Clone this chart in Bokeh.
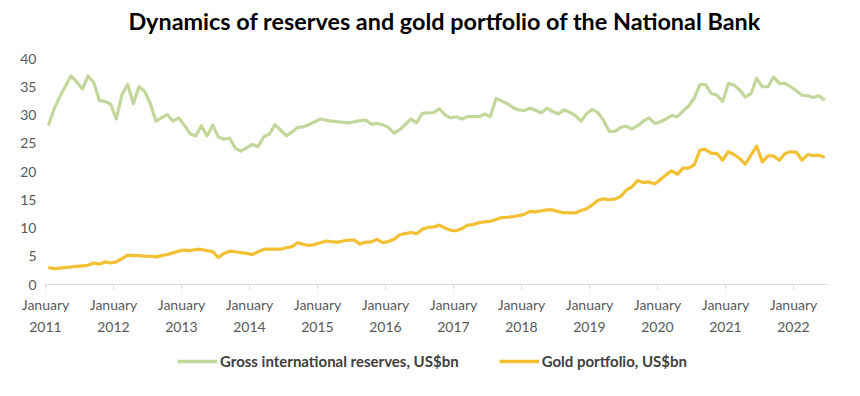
from bokeh.plotting import figure
from bokeh.layouts import column
from bokeh.models import Range1d, FixedTicker, Legend, LegendItem, Label
from bokeh.embed import file_html
from bokeh.resources import INLINE

title_text = "Dynamics of reserves and gold portfolio of the National Bank"
series_names = ["Gross international reserves, US$bn", "Gold portfolio, US$bn"]
tick_years = [2011, 2012, 2013, 2014, 2015, 2016, 2017, 2018, 2019, 2020, 2021, 2022]
tick_month_name = "January"
y_ticks = [0, 5, 10, 15, 20, 25, 30, 35, 40]

# Monthly values, January 2011 - June 2022
gross = [
    28.2, 31.0, 33.2, 35.1, 36.9, 35.9, 34.6, 36.9, 35.8, 32.6, 32.4, 31.9,
    29.3, 33.6, 35.4, 32.0, 35.0, 34.2, 32.0, 28.9, 29.5, 30.1, 28.9, 29.5,
    28.2, 26.7, 26.3, 28.1, 26.3, 28.2, 26.1, 25.7, 25.9, 24.1, 23.6, 24.2,
    24.8, 24.4, 26.1, 26.6, 28.3, 27.3, 26.3, 27.0, 27.8, 27.9, 28.3, 28.8,
    29.3, 29.1, 28.9, 28.8, 28.7, 28.6, 28.8, 29.0, 29.1, 28.4, 28.5, 28.3,
    27.8, 26.8, 27.4, 28.3, 29.3, 28.6, 30.3, 30.4, 30.4, 31.1, 30.0, 29.5,
    29.7, 29.3, 29.7, 29.7, 29.7, 30.2, 29.7, 32.9, 32.5, 32.0, 31.3, 30.9,
    30.8, 31.2, 30.85, 30.4, 31.2, 30.6, 30.2, 30.9, 30.5, 29.9, 28.9, 30.2,
    31.0, 30.4, 29.0, 27.1, 27.1, 27.8, 28.0, 27.5, 28.1, 28.9, 29.5, 28.5,
    28.8, 29.3, 29.9, 29.7, 30.7, 31.6, 33.0, 35.4, 35.4, 33.8, 33.5, 32.4,
    35.6, 35.3, 34.4, 33.2, 33.8, 36.5, 35.0, 35.0, 36.7, 35.6, 35.6, 35.0,
    34.3, 33.5, 33.4, 33.1, 33.4, 32.6,
]
gold = [
    3.0, 2.8, 2.9, 3.0, 3.1, 3.2, 3.3, 3.4, 3.8, 3.6, 4.0, 3.8,
    4.0, 4.6, 5.2, 5.1, 5.1, 5.0, 5.0, 4.9, 5.1, 5.3, 5.6, 5.9,
    6.1, 6.0, 6.2, 6.2, 6.0, 5.8, 4.8, 5.5, 5.9, 5.8, 5.65, 5.5,
    5.3, 5.8, 6.2, 6.25, 6.25, 6.25, 6.5, 6.7, 7.4, 7.1, 6.9, 7.1,
    7.4, 7.7, 7.6, 7.45, 7.7, 7.85, 7.85, 7.15, 7.5, 7.55, 8.0, 7.4,
    7.6, 8.0, 8.8, 9.0, 9.2, 9.0, 9.8, 10.1, 10.2, 10.5, 10.0, 9.6,
    9.5, 9.9, 10.5, 10.6, 10.95, 11.1, 11.2, 11.5, 11.85, 11.9, 12.0, 12.2,
    12.4, 12.95, 12.85, 13.05, 13.2, 13.2, 12.9, 12.7, 12.67, 12.67, 13.1, 13.4,
    14.1, 14.9, 15.15, 15.0, 15.1, 15.6, 16.7, 17.3, 18.4, 18.05, 18.15, 17.8,
    18.6, 19.4, 20.1, 19.5, 20.6, 20.6, 21.2, 23.8, 23.9, 23.2, 23.2, 22.0,
    23.5, 23.0, 22.3, 21.3, 22.9, 24.5, 21.7, 22.75, 22.75, 22.0, 23.2, 23.5,
    23.4, 22.0, 23.0, 22.8, 22.9, 22.5,
]

months = list(range(len(gross)))

FONT = "Lato"
LABEL_COLOR = "#595959"
GREEN = "#C4D79B"
GOLD = "#F2C133"
W = 852
NAN = float("nan")


def blank_fig(h):
    f = figure(width=W, height=h, output_backend="svg", toolbar_location=None,
               x_range=Range1d(0, W), y_range=Range1d(0, h),
               x_axis_type=None, y_axis_type=None,
               min_border_left=0, min_border_right=0, min_border_top=0,
               min_border_bottom=0)
    f.outline_line_color = None
    return f


# ---- title strip
pt = blank_fig(40)
pt.add_layout(Label(x=435, y=20, text=title_text, text_align="center",
                    text_baseline="middle", text_font=FONT, text_font_size="23.4px",
                    text_font_style="bold", text_color="#000000"))

# ---- main chart
p = figure(width=W, height=300, output_backend="svg", toolbar_location=None,
           x_range=Range1d(-0.5, len(gross) - 0.5), y_range=Range1d(0, 40),
           min_border_left=45, min_border_right=25, min_border_top=18,
           min_border_bottom=56)
p.outline_line_color = None
p.xgrid.visible = False
p.ygrid.visible = False

p.line(months, gross, line_color=GREEN, line_width=3.2, line_join="round")
p.line(months, gold, line_color=GOLD, line_width=3.2, line_join="round")

p.yaxis.ticker = FixedTicker(ticks=y_ticks)
p.yaxis.axis_line_color = None
p.yaxis.major_tick_out = 0
p.yaxis.major_tick_in = 0
p.yaxis.minor_tick_out = 0
p.yaxis.minor_tick_in = 0
p.yaxis.major_label_standoff = 9
p.yaxis.major_label_text_font = FONT
p.yaxis.major_label_text_font_size = "14px"
p.yaxis.major_label_text_color = LABEL_COLOR

xt = [-0.5 + 12 * k for k in range(len(tick_years))]
p.xaxis.ticker = FixedTicker(ticks=xt)
p.xaxis.major_label_overrides = {t: f"{tick_month_name}\n{y}" for t, y in zip(xt, tick_years)}
p.xaxis.axis_line_color = "#D9D9D9"
p.xaxis.axis_line_width = 1
p.xaxis.major_tick_line_color = "#D9D9D9"
p.xaxis.major_tick_out = 5
p.xaxis.major_tick_in = 0
p.xaxis.minor_tick_out = 0
p.xaxis.minor_tick_in = 0
p.xaxis.major_label_standoff = 6
p.xaxis.major_label_text_font = FONT
p.xaxis.major_label_text_font_size = "14px"
p.xaxis.major_label_text_color = LABEL_COLOR
p.xaxis.major_label_text_line_height = 1.35

# ---- legend strip (swatch renderers carry no visible data)
pl = blank_fig(48)
g1 = pl.line([NAN, NAN], [NAN, NAN], line_color=GREEN, line_width=3.5)
g2 = pl.line([NAN, NAN], [NAN, NAN], line_color=GOLD, line_width=3.5)
legend = Legend(items=[LegendItem(label=series_names[0], renderers=[g1]),
                       LegendItem(label=series_names[1], renderers=[g2])],
                location=(132, 17), orientation="horizontal")
legend.label_text_font = FONT
legend.label_text_font_size = "15px"
legend.label_text_font_style = "bold"
legend.label_text_color = "#404040"
legend.glyph_width = 40
legend.label_standoff = 3
legend.spacing = 40
legend.padding = 6
legend.margin = 0
legend.border_line_color = None
legend.background_fill_alpha = 0
pl.add_layout(legend)

layout = column(pt, p, pl, spacing=0)
open("out.html", "w").write(file_html(layout, INLINE))
